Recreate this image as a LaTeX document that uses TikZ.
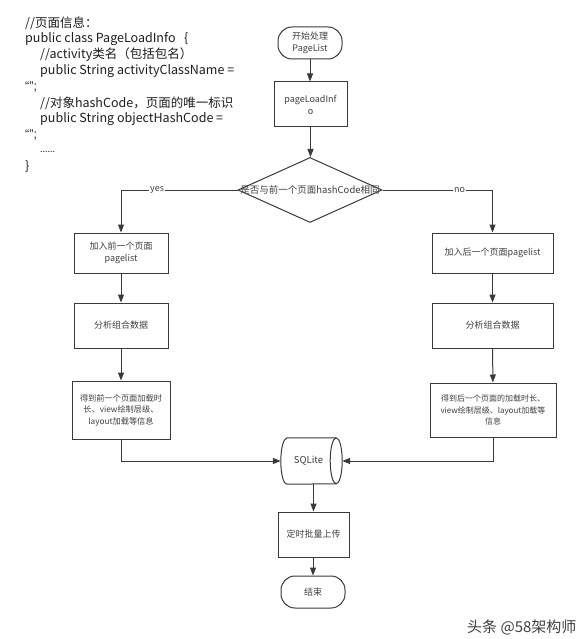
\documentclass[tikz,border=0pt]{standalone}
\usepackage{fontspec}
\setmainfont{Noto Sans CJK SC}
\newfontfamily\lat{Liberation Sans}
\usetikzlibrary{shapes.geometric,arrows.meta}
\definecolor{lc}{HTML}{3A3A3A}
\definecolor{tc}{HTML}{404040}
\definecolor{ct}{HTML}{1E1E1E}
\tikzset{
  ln/.style={draw=lc, line width=1pt},
  arr/.style={ln, -{Triangle[length=8pt,width=6pt]}},
  box/.style={ln, rectangle, inner sep=0pt, align=center, text=tc, font=\fontsize{9}{12}\selectfont},
  term/.style={box, rounded corners=14pt, minimum width=64pt, minimum height=32pt},
  code/.style={anchor=west, inner sep=0pt, text=ct, font=\fontsize{12.5}{16}\selectfont},
  elab/.style={fill=white, inner sep=1pt, text=tc, font=\fontsize{9}{11}\selectfont},
}
\begin{document}
\begin{tikzpicture}[x=1pt,y=-1pt]
\useasboundingbox[fill=white] (0,0) rectangle (588,639);
% code listing
\node[code] (c1) at (25,23) {//页面信息：};
\node[code] (c2) at (25,39) {public class PageLoadInfo\ \ \ \{};
\node[code] (c3) at (40,55) {//activity类名（包括包名）};
\node[code] (c4) at (40,71) {public String activityClassName =};
\node[code] (c5) at (25,87) {\lat “”;};
\node[code] (c6) at (40,103) {//对象hashCode，页面的唯一标识};
\node[code] (c7) at (40,119) {public String objectHashCode =};
\node[code] (c8) at (25,135) {\lat “”;};
\node[code, font=\fontsize{9}{12}\selectfont] (c9) at (40,152) {......};
\node[code] (c10) at (25,167) {\}};
% flowchart
\node[term] (start) at (310,43) {开始处理\\PageList};
\node[box, minimum width=73pt, minimum height=45pt] (info) at (310.5,104.5) {pageLoadInf\\o};
\node[ln, diamond, minimum width=144pt, minimum height=65pt, inner sep=0pt] (dia) at (310,190) {};
\node[inner sep=0pt, text=tc, font=\fontsize{9.5}{12}\selectfont] (diat) at (dia) {是否与前一个页面hashCode相同};
\node[box, minimum width=94pt, minimum height=40pt] (L1) at (121,253) {加入前一个页面\\pagelist};
\node[box, minimum width=94pt, minimum height=45pt] (L2) at (121,325.5) {分析组合数据};
\node[box, minimum width=98pt, minimum height=58pt, font=\fontsize{8.2}{11.5}\selectfont] (L3) at (121,410) {得到前一个页面加载时\\长、view绘制层级、\\layout加载等信息};
\node[box, minimum width=121pt, minimum height=40pt] (R1) at (492.5,253) {加入后一个页面pagelist};
\node[box, minimum width=121pt, minimum height=45pt] (R2) at (492.5,325.5) {分析组合数据};
\node[box, minimum width=126pt, minimum height=54pt, font=\fontsize{8}{11.5}\selectfont] (R3) at (493,410) {得到后一个页面的加载时长、\\view绘制层级、layout加载等\\信息};
\node[inner sep=0pt, minimum width=55pt, minimum height=46pt, text=tc, font=\fontsize{9.5}{12}\selectfont] (sql) at (308.5,461) {SQLite};
\draw[ln] ([xshift=6pt]sql.north west) -- (sql.north east)
  arc[start angle=-90, end angle=90, x radius=6, y radius=23]
  -- ([xshift=6pt]sql.south west)
  arc[start angle=90, end angle=270, x radius=6, y radius=23] -- cycle;
\draw[ln] (sql.north east) arc[start angle=270, end angle=90, x radius=6, y radius=23];
\node[box, minimum width=71pt, minimum height=45pt] (up) at (313.5,534.5) {定时批量上传};
\node[term] (end) at (313,592) {结束};
% connectors
\draw[arr] (start.south) -- (start.south |- info.north);
\draw[arr] (info.south) -- (info.south |- dia.north);
\draw[arr] (dia.west) -| node[elab, pos=0.345] {yes} (L1.north);
\draw[arr] (dia.east) -| node[elab, pos=0.35] {no} (R1.north);
\draw[arr] (L1) -- (L2);
\draw[arr] (L2) -- (L3);
\draw[arr] (R1) -- (R2);
\draw[arr] (R2) -- (R3);
\draw[arr] (L3.south) |- (sql.west);
\draw[arr] (R3.south) |- ([xshift=6pt]sql.east);
\draw[arr] (sql.south -| up.north) -- (up.north);
\draw[arr] (up.south -| end.north) -- (end.north);
% watermark
\node[anchor=west, inner sep=0pt, text=tc, font=\fontsize{15}{18}\selectfont] (wm) at (467,627) {头条 @58架构师};
\end{tikzpicture}
\end{document}
